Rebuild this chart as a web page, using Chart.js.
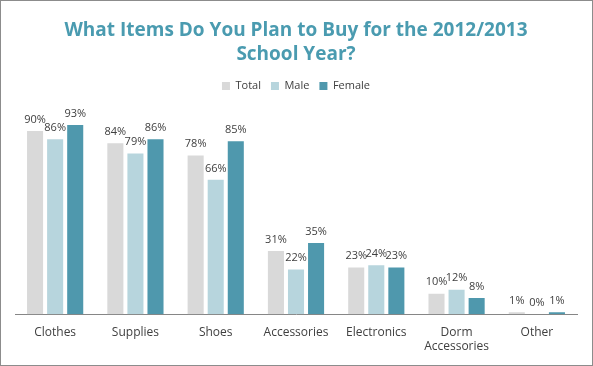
<!DOCTYPE html>
<html>
<head>
<meta charset="utf-8">
<script src="https://cdn.jsdelivr.net/npm/chart.js@4"></script>
<style>
  html, body { margin: 0; padding: 0; background: #fff; }
  #wrap { position: relative; width: 593px; height: 366px; box-sizing: border-box; border: 1px solid #8c8c8c; }
  canvas { display: block; }
</style>
</head>
<body>
<div id="wrap"><canvas id="c" width="591" height="364"></canvas></div>
<script>
const categories = ["Clothes", "Supplies", "Shoes", "Accessories", "Electronics", ["Dorm", "Accessories"], "Other"];
const totalValues = [90, 84, 78, 31, 23, 10, 1];
const maleValues = [86, 79, 66, 22, 24, 12, 0];
const femaleValues = [93, 86, 85, 35, 23, 8, 1];
const seriesNames = ["Total", "Male", "Female"];

const labelPlugin = {
  id: 'valueLabels',
  afterDatasetsDraw(chart) {
    const ctx = chart.ctx;
    ctx.save();
    ctx.font = '11px "Open Sans", "DejaVu Sans", sans-serif';
    ctx.fillStyle = '#404040';
    ctx.textAlign = 'center';
    ctx.textBaseline = 'bottom';
    chart.data.datasets.forEach((ds, i) => {
      const meta = chart.getDatasetMeta(i);
      meta.data.forEach((bar, j) => {
        ctx.fillText(ds.data[j] + '%', bar.x, bar.y - 6);
      });
    });
    ctx.restore();
  }
};

new Chart(document.getElementById('c'), {
  type: 'bar',
  data: {
    labels: categories,
    datasets: [
      { label: seriesNames[0], data: totalValues, backgroundColor: '#d9d9d9' },
      { label: seriesNames[1], data: maleValues, backgroundColor: '#b7d5dd' },
      { label: seriesNames[2], data: femaleValues, backgroundColor: '#4f98ad' }
    ]
  },
  options: {
    responsive: false,
    animation: false,
    layout: { padding: { left: 14, right: 15, top: 0, bottom: 0 } },
    datasets: { bar: { categoryPercentage: 0.75, barPercentage: 0.8 } },
    plugins: {
      title: {
        display: true,
        text: ["What Items Do You Plan to Buy for the 2012/2013", "School Year?"],
        color: '#4a9bb0',
        font: { family: '"Open Sans", "DejaVu Sans", sans-serif', size: 19, weight: 'bold', lineHeight: 1.25 },
        padding: { top: 18, bottom: 4 }
      },
      legend: {
        display: true,
        labels: {
          boxWidth: 8, boxHeight: 8, color: '#404040',
          font: { family: '"Open Sans", "DejaVu Sans", sans-serif', size: 11 },
          padding: 10
        }
      },
      tooltip: { enabled: false }
    },
    scales: {
      x: {
        grid: { display: false, drawTicks: false },
        border: { display: true, color: '#868686', width: 1 },
        ticks: {
          color: '#404040', padding: 11,
          font: { family: '"Open Sans", "DejaVu Sans", sans-serif', size: 12 },
          maxRotation: 0, autoSkip: false
        }
      },
      y: {
        display: false,
        min: 0, max: 104.5
      }
    }
  },
  plugins: [labelPlugin]
});
</script>
</body>
</html>
